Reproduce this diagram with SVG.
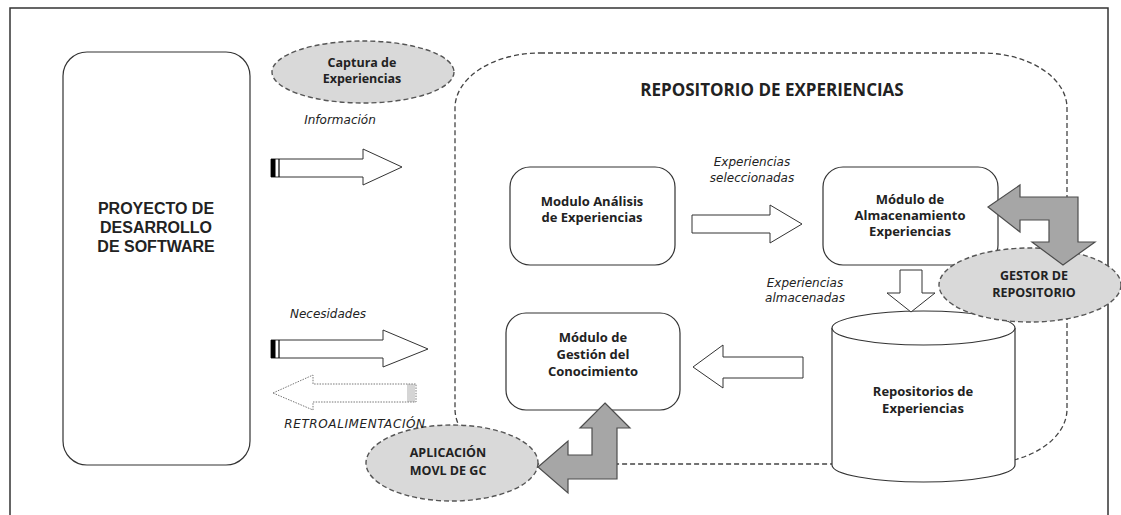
<svg xmlns="http://www.w3.org/2000/svg" width="1121" height="515" viewBox="0 0 1121 515">
<style>
.box{fill:#fff;stroke:#333;stroke-width:1.2}
.ell{fill:#d9d9d9;stroke:#555;stroke-width:1.4;stroke-dasharray:5 3}
.garrow{fill:#a6a6a6;stroke:#4d4d4d;stroke-width:1.2}
.warrow{fill:#fff;stroke:#333;stroke-width:1}
.dotarrow{fill:#fff;stroke:#777;stroke-width:1;stroke-dasharray:1.5 1.2}
.b{font-family:"Open Sans","Liberation Sans",sans-serif;font-weight:bold;fill:#222;text-anchor:middle}
.i{font-family:"DejaVu Sans",sans-serif;font-style:italic;font-size:12px;fill:#222;text-anchor:middle}
</style>
<rect x="0" y="0" width="1121" height="515" fill="#fff"/>
<rect x="10" y="8" width="1098" height="530" fill="none" stroke="#333" stroke-width="1.5"/>

<g id="repositorio">
<rect x="455" y="53" width="612" height="411" rx="85" ry="55" fill="none" stroke="#444" stroke-width="1.3" stroke-dasharray="5 3"/>
<text class="b" x="772" y="96" font-size="17">REPOSITORIO DE EXPERIENCIAS</text>
</g>

<g id="proyecto">
<rect class="box" x="63" y="52" width="187" height="413" rx="24"/>
<text class="b" font-size="16" style="font-family:'Liberation Sans',Arial,sans-serif"><tspan x="156" y="214">PROYECTO DE</tspan><tspan x="156" y="233">DESARROLLO</tspan><tspan x="156" y="252">DE SOFTWARE</tspan></text>
</g>

<g id="analisis">
<rect class="box" x="510" y="167" width="165" height="98" rx="20"/>
<text class="b" font-size="13"><tspan x="592" y="206">Modulo Análisis</tspan><tspan x="592" y="222">de Experiencias</tspan></text>
</g>

<g id="almacenamiento">
<rect class="box" x="823" y="167" width="175" height="98" rx="20"/>
<text class="b" font-size="13"><tspan x="910" y="204">Módulo de</tspan><tspan x="910" y="220">Almacenamiento</tspan><tspan x="910" y="236">Experiencias</tspan></text>
</g>

<g id="gestion">
<rect class="box" x="506" y="313" width="174" height="97" rx="20"/>
<text class="b" font-size="13"><tspan x="593" y="342">Módulo de</tspan><tspan x="593" y="359">Gestión del</tspan><tspan x="593" y="376">Conocimiento</tspan></text>
</g>

<g id="repositorios">
<path class="box" d="M832,328 V465 A91.5,17 0 0 0 1015,465 V328"/>
<ellipse class="box" cx="923.5" cy="328" rx="91.5" ry="17"/>
<text class="b" font-size="13"><tspan x="923" y="396">Repositorios de</tspan><tspan x="923" y="413">Experiencias</tspan></text>
</g>

<g id="captura">
<ellipse class="ell" cx="363" cy="72" rx="91" ry="31"/>
<text class="b" font-size="12.5"><tspan x="362" y="67">Captura de</tspan><tspan x="362" y="83">Experiencias</tspan></text>
</g>

<g id="gestor">
<ellipse class="ell" cx="1030" cy="285" rx="91" ry="37"/>
<text class="b" font-size="12.5"><tspan x="1034" y="280">GESTOR DE</tspan><tspan x="1034" y="297">REPOSITORIO</tspan></text>
</g>

<g id="aplicacion">
<ellipse class="ell" cx="452" cy="463" rx="86" ry="38"/>
<text class="b" font-size="12.5"><tspan x="448" y="457">APLICACIÓN</tspan><tspan x="448" y="475">MOVL DE GC</tspan></text>
</g>

<g id="connectors">
<path class="warrow" d="M271,159 H363 V149 L402,167 L363,185 V177 H271 Z"/>
<rect x="271" y="159" width="4.5" height="18" fill="#000"/>
<line x1="279" y1="159" x2="279" y2="177" stroke="#000" stroke-width="1.2"/>
<text class="i" x="340" y="124">Información</text>

<path class="warrow" d="M271,340 H383 V330 L428,349 L383,367 V358 H271 Z"/>
<rect x="271" y="340" width="4.5" height="18" fill="#000"/>
<line x1="279" y1="340" x2="279" y2="358" stroke="#000" stroke-width="1.2"/>
<text class="i" x="328" y="318">Necesidades</text>

<path class="dotarrow" d="M273,393 L313,375 V384 H416 V402 H313 V410 Z"/>
<g stroke="#888" stroke-width="0.7">
<line x1="408" y1="384" x2="408" y2="402"/><line x1="410" y1="384" x2="410" y2="402"/><line x1="412" y1="384" x2="412" y2="402"/><line x1="414" y1="384" x2="414" y2="402"/>
</g>
<text class="i" x="355" y="428" letter-spacing="0.6">RETROALIMENTACIÓN</text>

<path class="warrow" d="M692,215 H770 V205 L802,224 L770,243 V233 H692 Z"/>
<text class="i"><tspan x="752" y="166">Experiencias</tspan><tspan x="752" y="182">seleccionadas</tspan></text>

<path class="warrow" d="M900,270 H922 V293 H935 L911,312 L887,293 H900 Z"/>
<text class="i"><tspan x="805" y="287">Experiencias</tspan><tspan x="805" y="302">almacenadas</tspan></text>

<path class="warrow" d="M803,357 H723 V345 L693,367 L723,388 V378 H803 Z"/>

<path class="garrow" d="M988,207 L1020,185 V197 H1078 V242 H1095 L1063,265 L1032,242 H1049 V220 H1020 V232 Z"/>
<path class="garrow" d="M605,403 L630,428 H617 V479 H568 V493 L538,467 L568,441 V455 H592 V428 H580 Z"/>
</g>
</svg>
